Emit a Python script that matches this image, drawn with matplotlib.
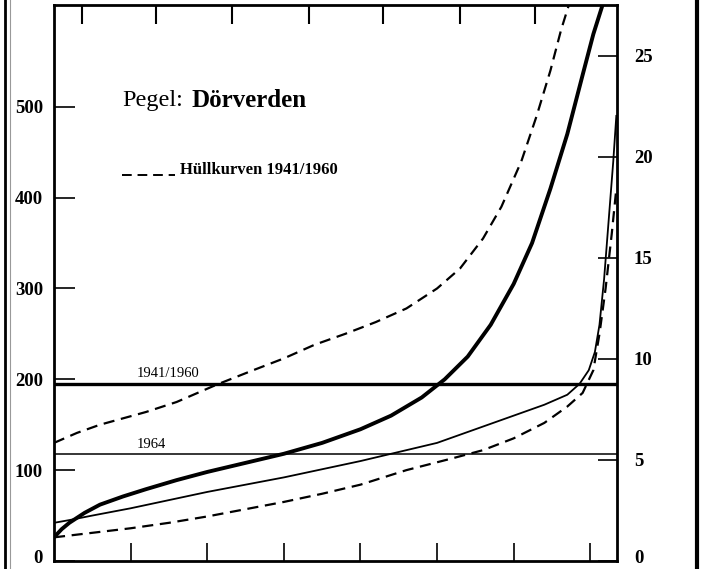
import matplotlib
matplotlib.use("Agg")
import matplotlib.pyplot as plt
from matplotlib.lines import Line2D
from matplotlib.transforms import offset_copy

plt.rcParams['font.family'] = ['Liberation Serif', 'DejaVu Serif']

# Duration curves, day of year vs. value (left axis)
mean_days = [0, 5, 10, 20, 30, 45, 60, 80, 100, 125, 150, 175, 200, 220, 240,
             255, 270, 285, 300, 312, 324, 335, 345, 352, 358]
mean_vals = [26, 35, 42, 53, 62, 71, 79, 89, 98, 108, 118, 130, 145, 160, 180,
             200, 225, 260, 305, 350, 410, 470, 535, 580, 612]

upper_days = [0, 15, 30, 45, 60, 80, 106, 130, 150, 170, 190, 210, 230, 250,
              265, 280, 292, 305, 315, 324, 331, 336]
upper_vals = [130, 141, 150, 157, 164, 175, 194, 210, 223, 238, 250, 263, 278,
              300, 322, 355, 390, 440, 490, 540, 585, 612]

y1964_days = [0, 10, 25, 50, 75, 100, 125, 150, 175, 200, 225, 250, 275, 300,
              320, 335, 343, 349, 353, 356, 359, 362, 365, 367]
y1964_vals = [42, 45, 50, 58, 67, 76, 84, 92, 101, 110, 120, 130, 145, 160,
              172, 183, 195, 210, 230, 260, 310, 375, 440, 490]

lower_days = [0, 25, 50, 75, 100, 125, 150, 175, 200, 230, 260, 280, 300, 320,
              335, 345, 352, 356, 360, 364, 367]
lower_vals = [26, 31, 36, 42, 49, 57, 65, 74, 84, 100, 113, 122, 135, 152, 170,
              185, 210, 250, 300, 360, 410]

# Mean levels
mean_1941_1960 = 195
mean_1964 = 118

left_ticks = [0, 100, 200, 300, 400, 500]
right_ticks = [0, 5, 10, 15, 20, 25]
bottom_ticks = [50, 100, 150, 200, 250, 300, 350]
top_ticks = [18, 66.7, 116.5, 166.3, 215, 264.7, 314]

fig = plt.figure(figsize=(7.03, 5.69), dpi=100)
ax = fig.add_axes([0.0768, 0.0141, 0.801, 0.977])

ax.set_xlim(0, 367.5)
ax.set_ylim(0, 612)

dash = (0, (5, 3))
ax.plot(mean_days, mean_vals, color='black', lw=2.8, solid_capstyle='butt')
ax.plot(upper_days, upper_vals, color='black', lw=1.6, linestyle=dash)
ax.plot(y1964_days, y1964_vals, color='black', lw=1.3)
ax.plot(lower_days, lower_vals, color='black', lw=1.6, linestyle=dash)

ax.axhline(mean_1941_1960, color='black', lw=2.4)
ax.axhline(mean_1964, color='black', lw=1.1)

ax.text(54, mean_1941_1960 + 4, '1941/1960', fontsize=10.5, ha='left', va='bottom')
ax.text(54, mean_1964 + 3, '1964', fontsize=10.5, ha='left', va='bottom')

# Title
ax.text(0.121, 0.829, 'Pegel:', transform=ax.transAxes, fontsize=17.5,
        ha='left', va='center')
ax.text(0.245, 0.829, 'Dörverden', transform=ax.transAxes, fontsize=18,
        fontweight='bold', ha='left', va='center')

# Legend entry for the envelope curves
ax.add_line(Line2D([0.121, 0.215], [0.694, 0.694], transform=ax.transAxes,
                   color='black', lw=1.4, linestyle=(0, (5, 3))))
ax.text(0.224, 0.703, 'Hüllkurven 1941/1960', transform=ax.transAxes,
        fontsize=12, fontweight='bold', ha='left', va='center')

for s in ax.spines.values():
    s.set_linewidth(2.0)

ax.set_yticks(left_ticks)
ax.set_yticklabels([str(v) for v in left_ticks], fontweight='bold', fontsize=13.5)
ax.set_xticks(bottom_ticks)
ax.set_xticklabels([])
ax.tick_params(axis='y', direction='in', length=15, width=1.2, pad=8)
ax.tick_params(axis='x', direction='in', length=13, width=1.2)

axr = ax.twinx()
axr.set_ylim(0, 27.5)
axr.set_yticks(right_ticks)
axr.set_yticklabels([str(v) for v in right_ticks], fontweight='bold', fontsize=13.5)
axr.tick_params(axis='y', direction='in', length=14, width=1.2, pad=12)
for s in axr.spines.values():
    s.set_visible(False)

# lift the zero labels slightly so they stay inside the sheet
for lab in [ax.get_yticklabels()[0], axr.get_yticklabels()[0]]:
    lab.set_transform(offset_copy(lab.get_transform(), fig=fig, y=4, units='dots'))

axt = ax.twiny()
axt.set_xlim(0, 367.5)
axt.set_xticks(top_ticks)
axt.set_xticklabels([])
axt.tick_params(axis='x', direction='in', length=14, width=1.5)
for s in axt.spines.values():
    s.set_visible(False)

# Edge strips of the sheet
fig.add_artist(Line2D([5 / 703, 5 / 703], [0, 1], transform=fig.transFigure,
                      color='black', lw=2.0))
fig.add_artist(Line2D([10 / 703, 10 / 703], [0, 1], transform=fig.transFigure,
                      color='#999999', lw=0.8))
fig.add_artist(Line2D([697 / 703, 697 / 703], [0, 1], transform=fig.transFigure,
                      color='black', lw=3.0))

fig.savefig('out.png', dpi=100, facecolor='white')
